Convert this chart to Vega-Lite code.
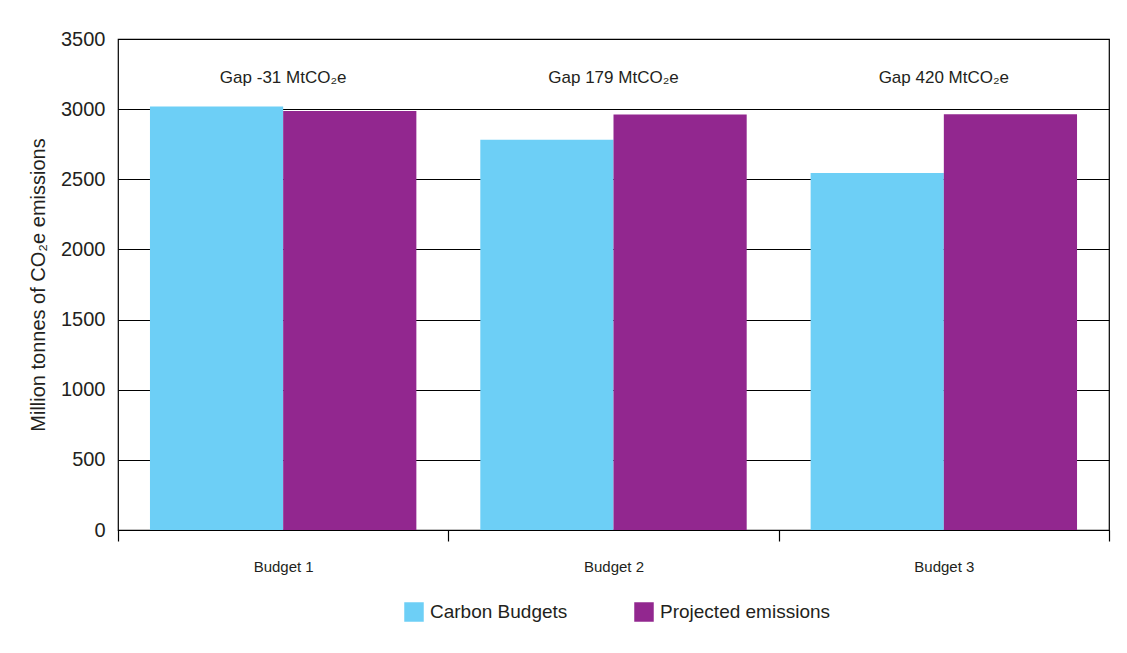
{
  "$schema": "https://vega.github.io/schema/vega-lite/v6.json",
  "width": 991,
  "height": 491,
  "autosize": {"type": "none"},
  "padding": {"left": 118, "top": 39, "right": 18, "bottom": 123},
  "background": "white",
  "config": {
    "font": "Liberation Sans",
    "view": {"stroke": "#000000", "strokeWidth": 1.2},
    "axis": {"labelColor": "#231F20", "titleColor": "#231F20"}
  },
  "datasets": {
    "bars": [
      {"budget": "Budget 1", "series": "Carbon Budgets", "value": 3018},
      {"budget": "Budget 1", "series": "Projected emissions", "value": 2987},
      {"budget": "Budget 2", "series": "Carbon Budgets", "value": 2782},
      {"budget": "Budget 2", "series": "Projected emissions", "value": 2961},
      {"budget": "Budget 3", "series": "Carbon Budgets", "value": 2544},
      {"budget": "Budget 3", "series": "Projected emissions", "value": 2964}
    ],
    "gaps": [
      {"budget": "Budget 1", "label": "Gap -31 MtCO₂e", "pos": 3222},
      {"budget": "Budget 2", "label": "Gap 179  MtCO₂e", "pos": 3222},
      {"budget": "Budget 3", "label": "Gap 420  MtCO₂e", "pos": 3222}
    ]
  },
  "encoding": {
    "x": {
      "field": "budget",
      "type": "nominal",
      "sort": ["Budget 1", "Budget 2", "Budget 3"],
      "scale": {"paddingInner": 0, "paddingOuter": 0},
      "axis": {
        "title": null,
        "labelAngle": 0,
        "labelFontSize": 15,
        "labelPadding": 18,
        "tickBand": "extent",
        "tickSize": 11,
        "tickColor": "#000000",
        "tickWidth": 1.2,
        "domainColor": "#000000",
        "domainWidth": 1.2,
        "grid": false
      }
    }
  },
  "layer": [
    {
      "data": {"name": "bars"},
      "mark": {"type": "bar"},
      "encoding": {
        "xOffset": {
          "field": "series",
          "type": "nominal",
          "sort": ["Carbon Budgets", "Projected emissions"],
          "scale": {"paddingInner": 0, "paddingOuter": 0.24}
        },
        "y": {
          "field": "value",
          "type": "quantitative",
          "scale": {"domain": [0, 3500], "nice": false},
          "axis": {
            "values": [0, 500, 1000, 1500, 2000, 2500, 3000, 3500],
            "format": "d",
            "title": "Million tonnes of CO₂e emissions",
            "titleFontSize": 20,
            "titleFontWeight": "normal",
            "titlePadding": 12,
            "labelFontSize": 20,
            "labelPadding": 13,
            "ticks": false,
            "domain": false,
            "grid": true,
            "gridColor": "#000000",
            "gridOpacity": 1,
            "gridWidth": 1.2
          }
        },
        "color": {
          "field": "series",
          "type": "nominal",
          "sort": ["Carbon Budgets", "Projected emissions"],
          "scale": {"range": ["#6DCFF6", "#92278F"]},
          "legend": {
            "title": null,
            "orient": "none",
            "direction": "horizontal",
            "legendX": 286,
            "legendY": 563,
            "symbolType": "square",
            "symbolSize": 380,
            "symbolOpacity": 1,
            "labelFontSize": 19,
            "labelLimit": 300,
            "labelColor": "#231F20",
            "labelOffset": 6,
            "columnPadding": 66,
            "symbolStrokeWidth": 0
          }
        }
      }
    },
    {
      "data": {"name": "gaps"},
      "mark": {"type": "text", "fontSize": 17, "color": "#231F20", "baseline": "middle"},
      "encoding": {
        "y": {"field": "pos", "type": "quantitative"},
        "text": {"field": "label"}
      }
    }
  ]
}
